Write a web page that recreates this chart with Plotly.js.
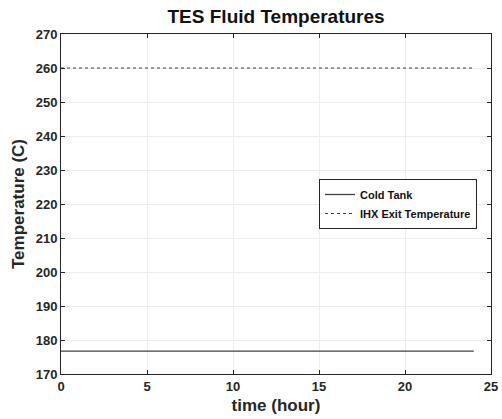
<!DOCTYPE html>
<html><head><meta charset="utf-8">
<script src="https://cdn.plot.ly/plotly-3.0.1.min.js"></script>
<style>html,body{margin:0;padding:0;background:#fff}#c{width:502px;height:419px}</style>
</head><body><div id="c"></div>
<script>
const timeHours = [0, 24];
const coldTank = [176.7, 176.7];
const ihxExit = [260, 260];
const seriesNames = ["Cold Tank", "IHX Exit Temperature"];

const font = {family: "Liberation Sans, Arial, sans-serif", color: "#262626"};
const data = [
  {x: timeHours, y: coldTank, name: seriesNames[0], mode: "lines", line: {color: "#404040", width: 1.3, dash: "solid"}},
  {x: timeHours, y: ihxExit, name: seriesNames[1], mode: "lines", line: {color: "#404040", width: 1.2, dash: "3px,3px"}}
];
const axisCommon = {showline: true, linecolor: "#262626", linewidth: 1, mirror: "ticks", ticks: "inside", ticklen: 4, tickcolor: "#262626",
  showgrid: true, gridcolor: "#ececec", gridwidth: 1, zeroline: false, tickfont: {family: font.family, size: 13, color: "#262626", weight: "bold"}};
const layout = {
  width: 502, height: 419,
  margin: {l: 61, r: 11, t: 34, b: 45},
  paper_bgcolor: "#fff", plot_bgcolor: "#fff",
  title: {text: "<b>TES Fluid Temperatures</b>", font: {family: font.family, size: 19, color: "#111"}, x: 0.55, xanchor: "center", y: 0.978, yanchor: "top"},
  xaxis: Object.assign({}, axisCommon, {range: [0, 25], tickvals: [0,5,10,15,20,25], title: {text: "<b>time (hour)</b>", font: {family: font.family, size: 17, color: "#262626"}, standoff: 6}}),
  yaxis: Object.assign({}, axisCommon, {range: [170, 270], tickvals: [170,180,190,200,210,220,230,240,250,260,270], title: {text: "<b>Temperature (C)</b>", font: {family: font.family, size: 17, color: "#262626"}, standoff: 6}}),
  showlegend: true,
  legend: {x: 0.6, y: 0.5, xanchor: "left", yanchor: "middle", bordercolor: "#262626", borderwidth: 1, bgcolor: "#fff",
    font: {family: font.family, size: 11, color: "#111", weight: "bold"}, tracegroupgap: 0, itemwidth: 30}
};
Plotly.newPlot("c", data, layout, {displayModeBar: false, staticPlot: true});
</script></body></html>
